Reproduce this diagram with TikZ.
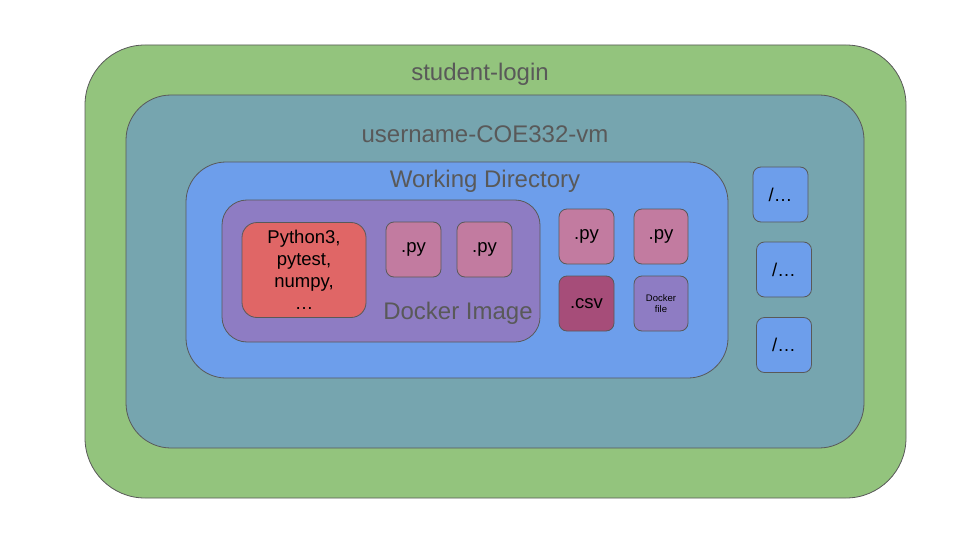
\documentclass[tikz,border=0pt]{standalone}
\usepackage{fontspec}
\setmainfont{Liberation Sans}
\definecolor{loginGreen}{HTML}{93C47D}
\definecolor{vmTeal}{HTML}{76A5AF}
\definecolor{dirBlue}{HTML}{6D9EEB}
\definecolor{imagePurple}{HTML}{8E7CC3}
\definecolor{libRed}{HTML}{E06666}
\definecolor{pyPink}{HTML}{C27BA0}
\definecolor{csvPlum}{HTML}{A64D79}
\definecolor{edgeGray}{HTML}{595959}
\definecolor{titleGray}{HTML}{595959}

\tikzset{
    box/.style={draw=edgeGray,line width=0.8pt,rectangle,inner sep=0pt},
    filebox/.style={box,rounded corners=8pt,minimum width=55pt,minimum height=55pt,
        font=\fontsize{18.5pt}{22pt}\selectfont},
    title/.style={text=titleGray,font=\fontsize{24pt}{28pt}\selectfont}
}

\begin{document}
\begin{tikzpicture}[x=1pt,y=-1pt]

\useasboundingbox (0,0) rectangle (960,540);

% nested areas
\node[box,fill=loginGreen,rounded corners=60pt,minimum width=821pt,minimum height=453pt] (login) at (495.5,271.5) {};
\node[box,fill=vmTeal,rounded corners=45pt,minimum width=738pt,minimum height=353pt] (vm) at (495,271.5) {};
\node[box,fill=dirBlue,rounded corners=40pt,minimum width=542pt,minimum height=216pt] (workdir) at (457,270) {};
\node[box,fill=imagePurple,rounded corners=25pt,minimum width=318pt,minimum height=142pt] (image) at (381,271) {};

% titles
\node[title] (logintitle) at (480,74.5) {student-login};
\node[title] (vmtitle) at (485,134.5) {username-COE332-vm};
\node[title] (dirtitle) at (485,181.5) {Working Directory};
\node[title] (imagetitle) at (458,313.5) {Docker Image};

% inside the image
\node[box,fill=libRed,rounded corners=15pt,minimum width=124pt,minimum height=95pt,align=center,
    font=\fontsize{18.5pt}{22pt}\selectfont] (libs) at (304,270) {Python3,\\pytest,\\numpy,\\\dots};
\node[filebox,fill=pyPink] (imgpyA) at (413.5,249.5) {.py};
\node[filebox,fill=pyPink] (imgpyB) at (484.5,249.5) {.py};

% working directory files
\node[filebox,fill=pyPink] (dirpyA) at (586.5,236.5) {.py};
\node[filebox,fill=pyPink,minimum width=54pt] (dirpyB) at (661,236.5) {.py};
\node[filebox,fill=csvPlum] (csv) at (586.5,303.5) {.csv};
\node[filebox,fill=imagePurple,minimum width=54pt,align=center,
    font=\fontsize{9.5pt}{11pt}\selectfont] (dockerfile) at (661,303.5) {Docker\\file};

% other directories
\foreach \name/\pos in {otherA/{(780.5,194.5)}, otherB/{(784,269.5)}, otherC/{(784,345)}}
    \node[filebox,fill=dirBlue] (\name) at \pos {/\dots};

\end{tikzpicture}
\end{document}
